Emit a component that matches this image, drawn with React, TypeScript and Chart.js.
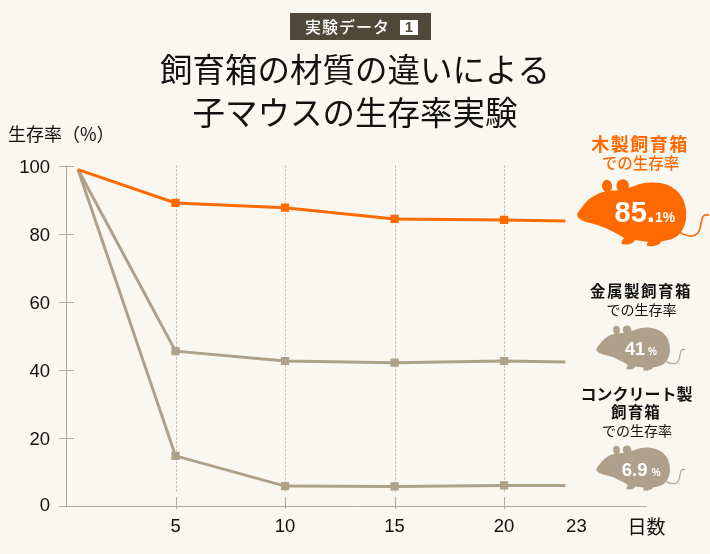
import React, { useEffect, useRef } from "react";
import { Chart, registerables } from "chart.js";

Chart.register(...registerables);

const titleLines = ["飼育箱の材質の違いによる", "子マウスの生存率実験"];
const days = [0.55, 5, 10, 15, 20, 22.8];
const woodValues = [98.8, 89, 87.6, 84.3, 84, 83.7];
const metalValues = [98.8, 45.4, 42.5, 42, 42.5, 42.2];
const concreteValues = [98.8, 14.6, 5.7, 5.6, 5.9, 5.9];
const xTickValues = [5, 10, 15, 20, 23.3, 26.5];
const xTickLabels = ["5", "10", "15", "20", "23", "日数"];
const markedDays = [5, 10, 15, 20];
const axisEndDay = 26.5;

const BG = "#FAF7F1";
const ORANGE = "#FF6A00";
const TAN = "#AFA08C";
const AXIS = "#B5A896";
const JP = '"Noto Sans CJK JP"';
const NUM = '"Liberation Sans"';

const mouseOutline = [
  [113, 278], [128, 258], [145, 238], [165, 225], [190, 214], [225, 212], [262, 207],
  [295, 192], [340, 185], [390, 195], [425, 225], [441, 270], [436, 315], [420, 342],
  [398, 358], [365, 364],
];

function text(ctx: any, s: string, x: number, y: number, font: string, color: string, align = "center", base = "middle", spacing = 0) {
  ctx.font = font;
  ctx.fillStyle = color;
  ctx.textAlign = align;
  ctx.textBaseline = base;
  ctx.letterSpacing = spacing + "px";
  ctx.fillText(s, x, y);
  ctx.letterSpacing = "0px";
}

function mouse(ctx: any, nx: number, ny: number, k: number, color: string) {
  ctx.save();
  ctx.translate(nx, ny);
  ctx.scale(k / 3, k / 3);
  ctx.translate(-113, -278);
  ctx.fillStyle = color;
  ctx.strokeStyle = color;
  ctx.beginPath();
  ctx.moveTo(mouseOutline[0][0], mouseOutline[0][1]);
  for (let i = 1; i < mouseOutline.length - 1; i++) {
    const [a, b] = mouseOutline[i];
    const [c, d] = mouseOutline[i + 1];
    ctx.quadraticCurveTo(a, b, (a + c) / 2, (b + d) / 2);
  }
  ctx.lineTo(365, 364);
  ctx.bezierCurveTo(360, 372, 350, 379, 332, 379);
  ctx.bezierCurveTo(318, 379, 318, 372, 325, 366);
  ctx.lineTo(285, 360);
  ctx.bezierCurveTo(280, 372, 262, 375, 248, 373);
  ctx.bezierCurveTo(240, 370, 248, 360, 252, 354);
  ctx.bezierCurveTo(228, 338, 195, 320, 150, 309);
  ctx.bezierCurveTo(125, 303, 106, 293, 113, 278);
  ctx.closePath();
  ctx.fill();
  ctx.beginPath();
  ctx.ellipse(201, 198, 15, 19, -0.1, 0, Math.PI * 2);
  ctx.fill();
  ctx.beginPath();
  ctx.ellipse(248, 197, 19, 19, 0, 0, Math.PI * 2);
  ctx.fill();
  ctx.lineWidth = 5;
  ctx.lineCap = "round";
  ctx.beginPath();
  ctx.moveTo(420, 337);
  ctx.bezierCurveTo(445, 352, 472, 355, 480, 325);
  ctx.bezierCurveTo(486, 300, 484, 280, 505, 285);
  ctx.stroke();
  ctx.lineWidth = 1.2;
  ctx.strokeStyle = "#FFFFFF";
  ctx.globalAlpha = 0.5;
  for (const [a, b, c, d] of [[152, 310, 170, 338], [160, 311, 175, 332], [168, 313, 182, 328], [172, 316, 186, 322]]) {
    ctx.beginPath();
    ctx.moveTo(a, b);
    ctx.lineTo(c, d);
    ctx.stroke();
  }
  ctx.restore();
}

const decoration = {
  id: "decoration",
  beforeDatasetsDraw(chart: any) {
    const { ctx, scales } = chart;
    const x = scales.x;
    const y = scales.y;
    ctx.save();
    ctx.strokeStyle = "#BDB2A3";
    ctx.lineWidth = 1;
    ctx.setLineDash([2, 2]);
    for (const d of markedDays) {
      const px = Math.round(x.getPixelForValue(d)) + 0.5;
      ctx.beginPath();
      ctx.moveTo(px, y.getPixelForValue(100));
      ctx.lineTo(px, y.getPixelForValue(4));
      ctx.stroke();
    }
    ctx.setLineDash([]);
    ctx.strokeStyle = AXIS;
    const y0 = Math.round(y.getPixelForValue(0)) + 0.5;
    const ax = Math.round(x.left) + 0.5;
    ctx.beginPath();
    ctx.moveTo(59, y0);
    ctx.lineTo(x.getPixelForValue(axisEndDay), y0);
    ctx.moveTo(ax, y.getPixelForValue(100));
    ctx.lineTo(ax, y0);
    for (const t of y.ticks) {
      const py = Math.round(y.getPixelForValue(t.value)) + 0.5;
      ctx.moveTo(59, py);
      ctx.lineTo(74, py);
    }
    for (const d of markedDays) {
      const px = Math.round(x.getPixelForValue(d)) + 0.5;
      ctx.moveTo(px, 497);
      ctx.lineTo(px, 509);
    }
    ctx.stroke();
    ctx.restore();
  },
  afterDraw(chart: any) {
    const { ctx } = chart;
    ctx.save();
    ctx.fillStyle = "#524839";
    ctx.fillRect(290, 13, 141, 27);
    text(ctx, "実験データ", 305, 27, `500 16px ${JP}`, "#FFFFFF", "left", "middle", 1);
    ctx.fillStyle = "#FFFFFF";
    ctx.fillRect(400, 20, 18, 15);
    text(ctx, "1", 409, 28, `bold 15px ${NUM}`, "#524839");
    text(ctx, "生存率（%）", 8, 134, `400 18px ${JP}`, "#111111", "left");
    text(ctx, "木製飼育箱", 640, 144, `700 18px ${JP}`, ORANGE, "center", "middle", 1.5);
    text(ctx, "での生存率", 640.5, 163, `500 15.5px ${JP}`, ORANGE);
    mouse(ctx, 577.7, 212.7, 1, ORANGE);
    text(ctx, "85.", 614.5, 222, `bold 29px ${NUM}`, "#FFFFFF", "left", "alphabetic");
    text(ctx, "1%", 655, 222, `bold 14px ${NUM}`, "#FFFFFF", "left", "alphabetic");
    text(ctx, "金属製飼育箱", 641, 291.5, `700 15.5px ${JP}`, "#111111", "center", "middle", 1.5);
    text(ctx, "での生存率", 641.5, 310, `400 14px ${JP}`, "#111111");
    mouse(ctx, 596.7, 348, 0.675, TAN);
    text(ctx, "41", 625, 355, `bold 18px ${NUM}`, "#FFFFFF", "left", "alphabetic");
    text(ctx, "%", 648, 355, `bold 10px ${NUM}`, "#FFFFFF", "left", "alphabetic");
    text(ctx, "コンクリート製", 636.5, 394, `700 16px ${JP}`, "#111111");
    text(ctx, "飼育箱", 636, 412, `700 15.5px ${JP}`, "#111111", "center", "middle", 1.2);
    text(ctx, "での生存率", 637, 431, `400 14px ${JP}`, "#111111");
    mouse(ctx, 596.7, 468, 0.675, TAN);
    text(ctx, "6.9", 621.7, 475.7, `bold 18.5px ${NUM}`, "#FFFFFF", "left", "alphabetic");
    text(ctx, "%", 651.7, 475.7, `bold 10px ${NUM}`, "#FFFFFF", "left", "alphabetic");
    ctx.restore();
  },
};

function series(label: string, values: number[], color: string) {
  return {
    label,
    data: days.map((d, i) => ({ x: d, y: values[i] })),
    borderColor: color,
    backgroundColor: color,
    borderWidth: 3,
    pointStyle: "rect",
    pointBorderWidth: 0,
    pointRadius: days.map((d) => (markedDays.includes(d) ? 5.8 : 0)),
    tension: 0,
  };
}

export default function App() {
  const ref = useRef<HTMLCanvasElement>(null);
  useEffect(() => {
    document.body.style.margin = "0";
    document.body.style.background = BG;
    const chart = new Chart(ref.current!, {
      type: "line",
      data: {
        datasets: [
          series("木製飼育箱", woodValues, ORANGE),
          series("金属製飼育箱", metalValues, TAN),
          series("コンクリート製飼育箱", concreteValues, TAN),
        ],
      },
      plugins: [decoration],
      options: {
        responsive: false,
        animation: false,
        layout: { padding: 0 },
        plugins: {
          legend: { display: false },
          tooltip: { enabled: false },
          title: {
            display: true,
            text: titleLines,
            color: "#111111",
            font: { family: JP, size: 32.5, weight: "400", lineHeight: 43 / 32.5 },
            padding: { top: 48.5, bottom: 31 },
          },
        },
        scales: {
          x: {
            type: "linear",
            min: 0,
            max: 29.4,
            grid: { display: false, drawTicks: false },
            border: { display: false },
            afterBuildTicks: (s: any) => {
              s.ticks = xTickValues.map((value) => ({ value }));
            },
            afterFit: (s: any) => {
              s.height = 48.5;
              s.paddingLeft = 0;
              s.paddingRight = 0;
            },
            ticks: {
              autoSkip: false,
              maxRotation: 0,
              padding: 10,
              color: "#111111",
              callback: (_v: any, i: number) => xTickLabels[i],
              font: (c: any) =>
                xTickLabels[c.index] === "日数"
                  ? { family: JP, size: 19 }
                  : { family: NUM, size: 18.5 },
            },
          },
          y: {
            min: 0,
            max: 100,
            grid: { display: false, drawTicks: false },
            border: { display: false },
            afterFit: (s: any) => {
              s.width = 66;
              s.paddingTop = 0;
              s.paddingBottom = 0;
            },
            ticks: {
              stepSize: 20,
              padding: 16,
              color: "#111111",
              callback: (v: any) => (v === 0 ? "0" : ["", String(v)]),
              font: { family: NUM, size: 18.5, lineHeight: 5 / 18.5 },
            },
          },
        },
      },
    } as any);
    return () => chart.destroy();
  }, []);
  return (
    <canvas
      ref={ref}
      width={710}
      height={554}
      style={{ position: "absolute", left: 0, top: 0, display: "block", background: BG }}
    />
  );
}
